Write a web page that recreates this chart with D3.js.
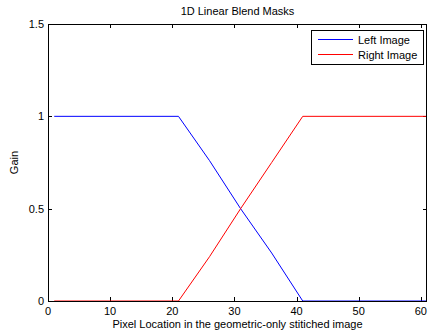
<!DOCTYPE html>
<html>
<head>
<meta charset="utf-8">
<script src="https://cdn.jsdelivr.net/npm/d3@7"></script>
<style>
  html, body { margin: 0; padding: 0; background: #fff; }
  svg { display: block; font-family: "Liberation Sans", Arial, sans-serif; }
</style>
</head>
<body>
<div id="chart"></div>
<script>
// pixel positions along the stitched strip (knots)
const pixelLocs = [1, 21, 26, 31, 36, 41, 61];
const leftGain  = [1, 1, 0.76, 0.5, 0.26, 0, 0];
const rightGain = [0, 0, 0.24, 0.5, 0.75, 1, 1];
const xTicks = [0, 10, 20, 30, 40, 50, 60];
const yTicks = [0, 0.5, 1, 1.5];
const seriesNames = ['Left Image', 'Right Image'];

const width = 430, height = 336;
const margin = { top: 24, right: 3, bottom: 35, left: 48 };

const svg = d3.select('#chart').append('svg')
  .attr('width', width)
  .attr('height', height);

const x = d3.scaleLinear().domain([0, 61]).range([margin.left, width - margin.right]);
const y = d3.scaleLinear().domain([0, 1.5]).range([height - margin.bottom, margin.top]);

const plotW = width - margin.left - margin.right;
const plotH = height - margin.top - margin.bottom;

// ticks (pointing inward, on all four sides)
const tickLen = 4;
const axes = svg.append('g').attr('stroke', '#000').attr('stroke-width', 1);
xTicks.forEach(t => {
  const px = Math.round(x(t)) + 0.5;
  axes.append('line').attr('x1', px).attr('x2', px)
    .attr('y1', y(0)).attr('y2', y(0) - tickLen);
  axes.append('line').attr('x1', px).attr('x2', px)
    .attr('y1', y(1.5)).attr('y2', y(1.5) + tickLen);
});
yTicks.forEach(t => {
  const py = Math.round(y(t)) + 0.5;
  axes.append('line').attr('x1', x(0)).attr('x2', x(0) + tickLen)
    .attr('y1', py).attr('y2', py);
  axes.append('line').attr('x1', x(61)).attr('x2', x(61) - tickLen)
    .attr('y1', py).attr('y2', py);
});

// lines
const line = vals => d3.line()
  .x((d, i) => x(pixelLocs[i]))
  .y(d => y(d))(vals);

svg.append('path').attr('d', line(leftGain))
  .attr('fill', 'none').attr('stroke', '#0000ff').attr('stroke-width', 1);
svg.append('path').attr('d', line(rightGain))
  .attr('fill', 'none').attr('stroke', '#ff0000').attr('stroke-width', 1);

// frame
svg.append('rect')
  .attr('x', margin.left + 0.5).attr('y', margin.top + 0.5)
  .attr('width', plotW - 1).attr('height', plotH)
  .attr('fill', 'none').attr('stroke', '#000').attr('stroke-width', 1);

// tick labels
svg.append('g').selectAll('text').data(xTicks).join('text')
  .attr('x', d => x(d))
  .attr('y', height - margin.bottom + 14)
  .attr('text-anchor', 'middle')
  .attr('font-size', 11)
  .text(d => d);

svg.append('g').selectAll('text').data(yTicks).join('text')
  .attr('x', margin.left - 4)
  .attr('y', d => y(d) + 4)
  .attr('text-anchor', 'end')
  .attr('font-size', 11)
  .text(d => d);

// title and axis labels
svg.append('text')
  .attr('x', margin.left + plotW / 2).attr('y', 15)
  .attr('text-anchor', 'middle').attr('font-size', 11)
  .text('1D Linear Blend Masks');

svg.append('text')
  .attr('x', margin.left + plotW / 2).attr('y', 328)
  .attr('text-anchor', 'middle').attr('font-size', 11)
  .text('Pixel Location in the geometric-only stitiched image');

svg.append('text')
  .attr('transform', `translate(18, ${margin.top + plotH / 2}) rotate(-90)`)
  .attr('text-anchor', 'middle').attr('font-size', 11)
  .text('Gain');

// legend
const legend = svg.append('g');
legend.append('rect')
  .attr('x', 311.5).attr('y', 30.5).attr('width', 112).attr('height', 34)
  .attr('fill', '#fff').attr('stroke', '#000').attr('stroke-width', 1);
const colors = ['#0000ff', '#ff0000'];
seriesNames.forEach((name, i) => {
  const ly = 39.5 + i * 15;
  legend.append('line')
    .attr('x1', 318).attr('x2', 353).attr('y1', ly).attr('y2', ly)
    .attr('stroke', colors[i]).attr('stroke-width', 1);
  legend.append('text')
    .attr('x', 358).attr('y', ly + 4)
    .attr('font-size', 11)
    .text(name);
});
</script>
</body>
</html>
